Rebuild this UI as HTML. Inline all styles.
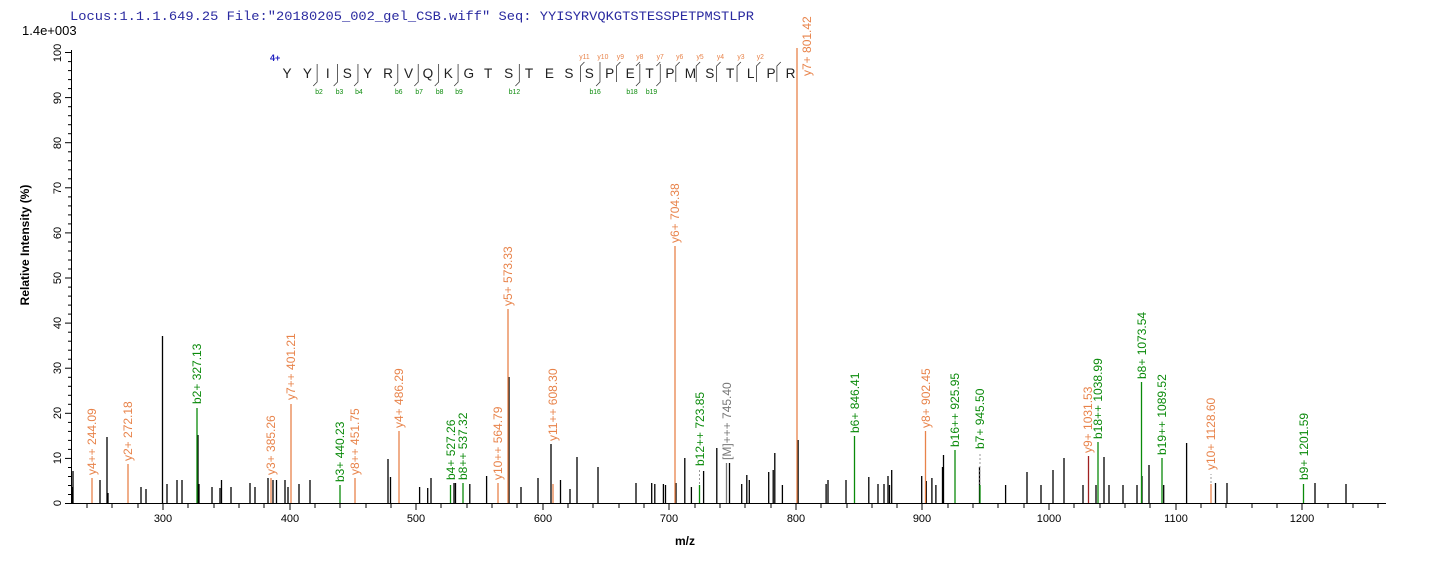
<!DOCTYPE html>
<html><head><meta charset="utf-8"><style>
html,body{margin:0;padding:0;background:#fff;width:1436px;height:562px;overflow:hidden}
svg{display:block;font-family:"Liberation Sans",Arial,sans-serif}
.o{stroke:#e8834a;stroke-width:1.3}
.g{stroke:#0a8a0a;stroke-width:1.3}
.k{stroke:#000;stroke-width:1.3}
.to{fill:#e8834a;font-size:12px}
.tg{fill:#0a8a0a;font-size:12px}
.tk{fill:#777;font-size:12px}
.ax{font-size:11px;fill:#000}
</style></head><body>
<svg width="1436" height="562" viewBox="0 0 1436 562">
<text x="70" y="20" font-family="Liberation Mono,monospace" font-size="13" fill="#2a2aa0" textLength="684" lengthAdjust="spacingAndGlyphs">Locus:1.1.1.649.25 File:"20180205_002_gel_CSB.wiff"   Seq: YYISYRVQKGTSTESSPETPMSTLPR</text>
<text x="22" y="35" font-size="13">1.4e+003</text>

<!-- axes -->
<line x1="71.5" y1="50" x2="71.5" y2="503" stroke="#000"/>
<line x1="71" y1="503.5" x2="1386" y2="503.5" stroke="#000"/>
<g stroke="#000" id="yt">
<line x1="65" y1="503.5" x2="71" y2="503.5"/><line x1="65" y1="458.4" x2="71" y2="458.4"/><line x1="65" y1="413.3" x2="71" y2="413.3"/><line x1="65" y1="368.2" x2="71" y2="368.2"/><line x1="65" y1="323.1" x2="71" y2="323.1"/><line x1="65" y1="278" x2="71" y2="278"/><line x1="65" y1="232.9" x2="71" y2="232.9"/><line x1="65" y1="187.8" x2="71" y2="187.8"/><line x1="65" y1="142.7" x2="71" y2="142.7"/><line x1="65" y1="97.6" x2="71" y2="97.6"/><line x1="65" y1="52.5" x2="71" y2="52.5"/>
</g>
<g stroke="#000">
<line x1="68" y1="494.5" x2="71" y2="494.5"/><line x1="68" y1="485.5" x2="71" y2="485.5"/><line x1="68" y1="476.5" x2="71" y2="476.5"/><line x1="68" y1="467.5" x2="71" y2="467.5"/>
<line x1="68" y1="449.4" x2="71" y2="449.4"/><line x1="68" y1="440.4" x2="71" y2="440.4"/><line x1="68" y1="431.4" x2="71" y2="431.4"/><line x1="68" y1="422.4" x2="71" y2="422.4"/>
<line x1="68" y1="404.3" x2="71" y2="404.3"/><line x1="68" y1="395.3" x2="71" y2="395.3"/><line x1="68" y1="386.3" x2="71" y2="386.3"/><line x1="68" y1="377.3" x2="71" y2="377.3"/>
<line x1="68" y1="359.2" x2="71" y2="359.2"/><line x1="68" y1="350.2" x2="71" y2="350.2"/><line x1="68" y1="341.2" x2="71" y2="341.2"/><line x1="68" y1="332.2" x2="71" y2="332.2"/>
<line x1="68" y1="314.1" x2="71" y2="314.1"/><line x1="68" y1="305.1" x2="71" y2="305.1"/><line x1="68" y1="296.1" x2="71" y2="296.1"/><line x1="68" y1="287.1" x2="71" y2="287.1"/>
<line x1="68" y1="269" x2="71" y2="269"/><line x1="68" y1="260" x2="71" y2="260"/><line x1="68" y1="251" x2="71" y2="251"/><line x1="68" y1="242" x2="71" y2="242"/>
<line x1="68" y1="223.9" x2="71" y2="223.9"/><line x1="68" y1="214.9" x2="71" y2="214.9"/><line x1="68" y1="205.9" x2="71" y2="205.9"/><line x1="68" y1="196.9" x2="71" y2="196.9"/>
<line x1="68" y1="178.8" x2="71" y2="178.8"/><line x1="68" y1="169.8" x2="71" y2="169.8"/><line x1="68" y1="160.8" x2="71" y2="160.8"/><line x1="68" y1="151.8" x2="71" y2="151.8"/>
<line x1="68" y1="133.7" x2="71" y2="133.7"/><line x1="68" y1="124.7" x2="71" y2="124.7"/><line x1="68" y1="115.7" x2="71" y2="115.7"/><line x1="68" y1="106.7" x2="71" y2="106.7"/>
<line x1="68" y1="88.6" x2="71" y2="88.6"/><line x1="68" y1="79.6" x2="71" y2="79.6"/><line x1="68" y1="70.6" x2="71" y2="70.6"/><line x1="68" y1="61.6" x2="71" y2="61.6"/>
</g>
<g class="ax" text-anchor="middle">
<text transform="translate(61,503) rotate(-90)">0</text>
<text transform="translate(61,458) rotate(-90)">10</text>
<text transform="translate(61,413) rotate(-90)">20</text>
<text transform="translate(61,368) rotate(-90)">30</text>
<text transform="translate(61,323) rotate(-90)">40</text>
<text transform="translate(61,278) rotate(-90)">50</text>
<text transform="translate(61,233) rotate(-90)">60</text>
<text transform="translate(61,188) rotate(-90)">70</text>
<text transform="translate(61,143) rotate(-90)">80</text>
<text transform="translate(61,98) rotate(-90)">90</text>
<text transform="translate(61,53) rotate(-90)">100</text>
</g>
<text transform="translate(29,245) rotate(-90)" text-anchor="middle" font-size="12" font-weight="bold">Relative   Intensity (%)</text>

<!-- x ticks -->
<g stroke="#000">
<line x1="87" y1="503" x2="87" y2="508"/><line x1="112" y1="503" x2="112" y2="508"/><line x1="138" y1="503" x2="138" y2="508"/>
<line x1="163" y1="503" x2="163" y2="510"/><line x1="188" y1="503" x2="188" y2="508"/><line x1="214" y1="503" x2="214" y2="508"/><line x1="239" y1="503" x2="239" y2="508"/><line x1="264" y1="503" x2="264" y2="508"/>
<line x1="290" y1="503" x2="290" y2="510"/><line x1="315" y1="503" x2="315" y2="508"/><line x1="340" y1="503" x2="340" y2="508"/><line x1="366" y1="503" x2="366" y2="508"/><line x1="391" y1="503" x2="391" y2="508"/>
<line x1="416" y1="503" x2="416" y2="510"/><line x1="441" y1="503" x2="441" y2="508"/><line x1="467" y1="503" x2="467" y2="508"/><line x1="492" y1="503" x2="492" y2="508"/><line x1="517" y1="503" x2="517" y2="508"/>
<line x1="543" y1="503" x2="543" y2="510"/><line x1="568" y1="503" x2="568" y2="508"/><line x1="593" y1="503" x2="593" y2="508"/><line x1="619" y1="503" x2="619" y2="508"/><line x1="644" y1="503" x2="644" y2="508"/>
<line x1="669" y1="503" x2="669" y2="510"/><line x1="695" y1="503" x2="695" y2="508"/><line x1="720" y1="503" x2="720" y2="508"/><line x1="745" y1="503" x2="745" y2="508"/><line x1="771" y1="503" x2="771" y2="508"/>
<line x1="796" y1="503" x2="796" y2="510"/><line x1="821" y1="503" x2="821" y2="508"/><line x1="847" y1="503" x2="847" y2="508"/><line x1="872" y1="503" x2="872" y2="508"/><line x1="897" y1="503" x2="897" y2="508"/>
<line x1="922" y1="503" x2="922" y2="510"/><line x1="948" y1="503" x2="948" y2="508"/><line x1="973" y1="503" x2="973" y2="508"/><line x1="998" y1="503" x2="998" y2="508"/><line x1="1024" y1="503" x2="1024" y2="508"/>
<line x1="1049" y1="503" x2="1049" y2="510"/><line x1="1074" y1="503" x2="1074" y2="508"/><line x1="1100" y1="503" x2="1100" y2="508"/><line x1="1125" y1="503" x2="1125" y2="508"/><line x1="1150" y1="503" x2="1150" y2="508"/>
<line x1="1176" y1="503" x2="1176" y2="510"/><line x1="1201" y1="503" x2="1201" y2="508"/><line x1="1226" y1="503" x2="1226" y2="508"/><line x1="1252" y1="503" x2="1252" y2="508"/><line x1="1277" y1="503" x2="1277" y2="508"/>
<line x1="1302" y1="503" x2="1302" y2="510"/><line x1="1328" y1="503" x2="1328" y2="508"/><line x1="1353" y1="503" x2="1353" y2="508"/><line x1="1378" y1="503" x2="1378" y2="508"/>
</g>
<g class="ax" text-anchor="middle">
<text x="163" y="522">300</text><text x="290" y="522">400</text><text x="416" y="522">500</text><text x="543" y="522">600</text><text x="669" y="522">700</text><text x="796" y="522">800</text><text x="922" y="522">900</text><text x="1049" y="522">1000</text><text x="1176" y="522">1100</text><text x="1302" y="522">1200</text>
</g>
<text x="685" y="545" text-anchor="middle" font-size="12" font-weight="bold">m/z</text>

<!-- black peaks -->
<g class="k">
<line x1="73" y1="503" x2="73" y2="471"/><line x1="72.5" y1="503" x2="72.5" y2="487"/><line x1="100" y1="503" x2="100" y2="480"/><line x1="107" y1="503" x2="107" y2="437"/><line x1="108" y1="503" x2="108" y2="493"/>
<line x1="141" y1="503" x2="141" y2="487"/><line x1="146" y1="503" x2="146" y2="489"/><line x1="162.5" y1="503" x2="162.5" y2="336"/><line x1="167" y1="503" x2="167" y2="484"/><line x1="177" y1="503" x2="177" y2="480"/><line x1="182" y1="503" x2="182" y2="480"/>
<line x1="198" y1="503" x2="198" y2="435"/><line x1="199" y1="503" x2="199" y2="484"/><line x1="212" y1="503" x2="212" y2="487"/><line x1="220" y1="503" x2="220" y2="488"/><line x1="221.5" y1="503" x2="221.5" y2="480"/><line x1="231" y1="503" x2="231" y2="487"/>
<line x1="250" y1="503" x2="250" y2="483"/><line x1="255" y1="503" x2="255" y2="487"/><line x1="268" y1="503" x2="268" y2="478"/><line x1="273" y1="503" x2="273" y2="480"/><line x1="276.5" y1="503" x2="276.5" y2="480"/><line x1="285" y1="503" x2="285" y2="480"/><line x1="288" y1="503" x2="288" y2="487"/>
<line x1="299" y1="503" x2="299" y2="484"/><line x1="310" y1="503" x2="310" y2="480"/><line x1="388" y1="503" x2="388" y2="459"/><line x1="390.5" y1="503" x2="390.5" y2="477"/><line x1="419.6" y1="503" x2="419.6" y2="487"/><line x1="427.7" y1="503" x2="427.7" y2="488"/><line x1="431" y1="503" x2="431" y2="478"/>
<line x1="454" y1="503" x2="454" y2="483"/><line x1="455.5" y1="503" x2="455.5" y2="483"/><line x1="469.8" y1="503" x2="469.8" y2="484"/><line x1="486.6" y1="503" x2="486.6" y2="476"/><line x1="509" y1="503" x2="509" y2="377"/><line x1="521" y1="503" x2="521" y2="487"/><line x1="538" y1="503" x2="538" y2="478"/>
<line x1="551" y1="503" x2="551" y2="444"/><line x1="560.5" y1="503" x2="560.5" y2="480"/><line x1="570" y1="503" x2="570" y2="489"/><line x1="577" y1="503" x2="577" y2="457"/><line x1="598" y1="503" x2="598" y2="467"/><line x1="636" y1="503" x2="636" y2="483"/>
<line x1="651.7" y1="503" x2="651.7" y2="483"/><line x1="654.8" y1="503" x2="654.8" y2="484"/><line x1="663.4" y1="503" x2="663.4" y2="484"/><line x1="665.5" y1="503" x2="665.5" y2="485"/><line x1="676" y1="503" x2="676" y2="483"/><line x1="684.8" y1="503" x2="684.8" y2="458"/><line x1="691.4" y1="503" x2="691.4" y2="487"/>
<line x1="703.6" y1="503" x2="703.6" y2="471"/><line x1="716.8" y1="503" x2="716.8" y2="448"/><line x1="729.5" y1="503" x2="729.5" y2="463"/><line x1="741.7" y1="503" x2="741.7" y2="484"/><line x1="746.8" y1="503" x2="746.8" y2="475"/><line x1="749.3" y1="503" x2="749.3" y2="480"/>
<line x1="768.7" y1="503" x2="768.7" y2="472"/><line x1="773.2" y1="503" x2="773.2" y2="470"/><line x1="774.8" y1="503" x2="774.8" y2="453"/><line x1="782.4" y1="503" x2="782.4" y2="485"/><line x1="798.1" y1="503" x2="798.1" y2="440"/>
<line x1="826.1" y1="503" x2="826.1" y2="484"/><line x1="828" y1="503" x2="828" y2="480"/><line x1="846" y1="503" x2="846" y2="480"/><line x1="868.8" y1="503" x2="868.8" y2="477"/><line x1="878" y1="503" x2="878" y2="484"/><line x1="884" y1="503" x2="884" y2="484"/><line x1="888" y1="503" x2="888" y2="476"/><line x1="889.5" y1="503" x2="889.5" y2="485"/><line x1="891.7" y1="503" x2="891.7" y2="470"/>
<line x1="921.7" y1="503" x2="921.7" y2="476"/><line x1="926.3" y1="503" x2="926.3" y2="481"/><line x1="931.9" y1="503" x2="931.9" y2="478"/><line x1="935.9" y1="503" x2="935.9" y2="485"/><line x1="942.5" y1="503" x2="942.5" y2="467"/><line x1="943.5" y1="503" x2="943.5" y2="455"/>
<line x1="979.5" y1="503" x2="979.5" y2="467"/><line x1="1005.6" y1="503" x2="1005.6" y2="485"/><line x1="1027" y1="503" x2="1027" y2="472"/><line x1="1041" y1="503" x2="1041" y2="485"/><line x1="1053" y1="503" x2="1053" y2="470"/><line x1="1064" y1="503" x2="1064" y2="458"/>
<line x1="1083" y1="503" x2="1083" y2="485"/><line x1="1096" y1="503" x2="1096" y2="485"/><line x1="1104" y1="503" x2="1104" y2="457"/><line x1="1109" y1="503" x2="1109" y2="485"/><line x1="1123" y1="503" x2="1123" y2="485"/><line x1="1137" y1="503" x2="1137" y2="485"/><line x1="1142" y1="503" x2="1142" y2="476"/><line x1="1149" y1="503" x2="1149" y2="465"/>
<line x1="1163.7" y1="503" x2="1163.7" y2="485"/><line x1="1186.6" y1="503" x2="1186.6" y2="443"/><line x1="1215.5" y1="503" x2="1215.5" y2="483"/><line x1="1227" y1="503" x2="1227" y2="483"/><line x1="1315" y1="503" x2="1315" y2="483"/><line x1="1346" y1="503" x2="1346" y2="484"/>
</g>

<!-- labeled peaks -->
<g class="o">
<line x1="92" y1="503" x2="92" y2="478"/><line x1="128" y1="503" x2="128" y2="464"/><line x1="271" y1="503" x2="271" y2="478"/><line x1="291" y1="503" x2="291" y2="404"/><line x1="355" y1="503" x2="355" y2="478"/>
<line x1="399" y1="503" x2="399" y2="431"/><line x1="498" y1="503" x2="498" y2="483"/><line x1="508" y1="503" x2="508" y2="309"/><line x1="553" y1="503" x2="553" y2="484"/><line x1="675" y1="503" x2="675" y2="246"/><line x1="797" y1="503" x2="797" y2="48"/>
<line x1="925.5" y1="503" x2="925.5" y2="431"/><line x1="1211" y1="503" x2="1211" y2="484"/>
</g>
<line x1="1088.5" y1="503" x2="1088.5" y2="456" stroke="#a02020" stroke-width="1.3"/>
<g class="g">
<line x1="197" y1="503" x2="197" y2="408"/><line x1="340" y1="503" x2="340" y2="485"/><line x1="450.5" y1="503" x2="450.5" y2="485"/><line x1="463" y1="503" x2="463" y2="483"/><line x1="699.5" y1="503" x2="699.5" y2="485"/>
<line x1="854.5" y1="503" x2="854.5" y2="436"/><line x1="955" y1="503" x2="955" y2="450"/><line x1="980" y1="503" x2="980" y2="485"/><line x1="1098" y1="503" x2="1098" y2="442"/><line x1="1141.5" y1="503" x2="1141.5" y2="382"/><line x1="1162" y1="503" x2="1162" y2="458"/><line x1="1303.5" y1="503" x2="1303.5" y2="484"/>
</g>
<line x1="726.5" y1="503" x2="726.5" y2="463" stroke="#777" stroke-width="1.3"/>
<g stroke="#999" stroke-dasharray="2,2">
<line x1="699.5" y1="484" x2="699.5" y2="468"/><line x1="980" y1="484" x2="980" y2="452"/><line x1="1211" y1="483" x2="1211" y2="474"/>
</g>

<g>
<text class="to" transform="translate(96,475) rotate(-90)">y4++ 244.09</text>
<text class="to" transform="translate(132,461) rotate(-90)">y2+ 272.18</text>
<text class="tg" transform="translate(201,404) rotate(-90)">b2+ 327.13</text>
<text class="to" transform="translate(275,475) rotate(-90)">y3+ 385.26</text>
<text class="to" transform="translate(295,400) rotate(-90)">y7++ 401.21</text>
<text class="tg" transform="translate(344,482) rotate(-90)">b3+ 440.23</text>
<text class="to" transform="translate(359,475) rotate(-90)">y8++ 451.75</text>
<text class="to" transform="translate(403,428) rotate(-90)">y4+ 486.29</text>
<text class="tg" transform="translate(455,480) rotate(-90)">b4+ 527.26</text>
<text class="tg" transform="translate(467,480) rotate(-90)">b8++ 537.32</text>
<text class="to" transform="translate(502,480) rotate(-90)">y10++ 564.79</text>
<text class="to" transform="translate(512,306) rotate(-90)">y5+ 573.33</text>
<text class="to" transform="translate(557,441) rotate(-90)">y11++ 608.30</text>
<text class="to" transform="translate(679,243) rotate(-90)">y6+ 704.38</text>
<text class="tg" transform="translate(704,466) rotate(-90)">b12++ 723.85</text>
<text class="tk" transform="translate(731,460) rotate(-90)">[M]+++ 745.40</text>
<text class="to" transform="translate(811,76) rotate(-90)">y7+ 801.42</text>
<text class="tg" transform="translate(859,433) rotate(-90)">b6+ 846.41</text>
<text class="to" transform="translate(930,428) rotate(-90)">y8+ 902.45</text>
<text class="tg" transform="translate(959,447) rotate(-90)">b16++ 925.95</text>
<text class="tg" transform="translate(984,449) rotate(-90)">b7+ 945.50</text>
<text class="to" transform="translate(1092,453) rotate(-90)">y9+ 1031.53</text>
<text class="tg" transform="translate(1102,439) rotate(-90)">b18++ 1038.99</text>
<text class="tg" transform="translate(1146,379) rotate(-90)">b8+ 1073.54</text>
<text class="tg" transform="translate(1166,455) rotate(-90)">b19++ 1089.52</text>
<text class="to" transform="translate(1215,470) rotate(-90)">y10+ 1128.60</text>
<text class="tg" transform="translate(1308,480) rotate(-90)">b9+ 1201.59</text>
</g>

<!-- sequence -->
<text x="270" y="61" font-size="9" font-weight="bold" fill="#2020c0">4+</text>
<g transform="translate(287,0) scale(0.972,1) translate(-287,0)">
<g font-size="14" text-anchor="middle" fill="#222">
<text x="287" y="78">Y</text><text x="308" y="78">Y</text><text x="329" y="78">I</text><text x="349" y="78">S</text><text x="370" y="78">Y</text><text x="391" y="78">R</text><text x="412" y="78">V</text><text x="432" y="78">Q</text><text x="453" y="78">K</text><text x="474" y="78">G</text><text x="494" y="78">T</text><text x="515" y="78">S</text><text x="536" y="78">T</text><text x="557" y="78">E</text><text x="577" y="78">S</text><text x="598" y="78">S</text><text x="619" y="78">P</text><text x="640" y="78">E</text><text x="660" y="78">T</text><text x="681" y="78">P</text><text x="702" y="78">M</text><text x="722" y="78">S</text><text x="743" y="78">T</text><text x="764" y="78">L</text><text x="785" y="78">P</text><text x="805" y="78">R</text>
</g>
<g stroke="#333" stroke-width="0.8" fill="none">
<path d="M318,64 V82 L314,86"/><path d="M339,64 V82 L335,86"/><path d="M360,64 V82 L356,86"/><path d="M401,64 V82 L397,86"/><path d="M422,64 V82 L418,86"/><path d="M443,64 V82 L439,86"/><path d="M463,64 V82 L459,86"/><path d="M526,64 V82 L522,86"/><path d="M609,64 V82 L605,86"/><path d="M650,64 V82 L646,86"/><path d="M671,64 V82 L667,86"/>
<path d="M593,62 L589,66 V82"/><path d="M609,62 L609,64"/><path d="M630,62 L626,66 V82"/><path d="M650,62 L646,66"/><path d="M671,62 L667,66"/><path d="M691,62 L687,66 V82"/><path d="M712,62 L708,66 V82"/><path d="M733,62 L729,66 V82"/><path d="M754,62 L750,66 V82"/><path d="M774,62 L770,66 V82"/><path d="M795,62 L791,66 V82"/>
</g>
<g font-size="7" fill="#0a8a0a" text-anchor="middle">
<text x="320" y="94">b2</text><text x="341" y="94">b3</text><text x="361" y="94">b4</text><text x="402" y="94">b6</text><text x="423" y="94">b7</text><text x="444" y="94">b8</text><text x="464" y="94">b9</text><text x="521" y="94">b12</text><text x="604" y="94">b16</text><text x="642" y="94">b18</text><text x="662" y="94">b19</text>
</g>
<g font-size="7" fill="#e8834a" text-anchor="middle">
<text x="593" y="59">y11</text><text x="612" y="59">y10</text><text x="630" y="59">y9</text><text x="650" y="59">y8</text><text x="671" y="59">y7</text><text x="691" y="59">y6</text><text x="712" y="59">y5</text><text x="733" y="59">y4</text><text x="754" y="59">y3</text><text x="774" y="59">y2</text>
</g>
</g>
</svg>
</body></html>
